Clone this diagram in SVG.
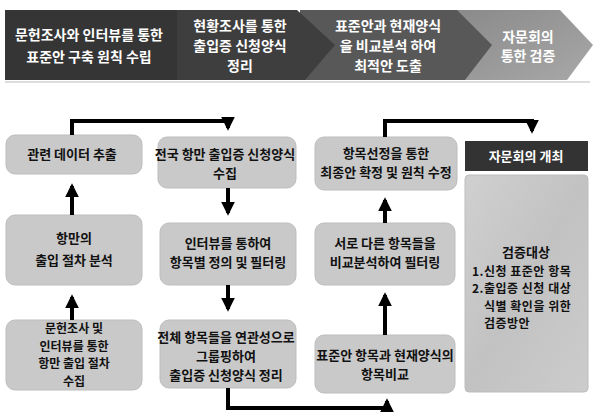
<svg xmlns="http://www.w3.org/2000/svg" width="595" height="412" viewBox="0 0 595 412">
<defs>
<style>
.bt{font-family:"Noto Sans CJK KR","Noto Sans",sans-serif;font-size:14px;font-weight:bold;fill:#ffffff;text-anchor:middle}
.t{font-family:"Noto Sans CJK KR","Noto Sans",sans-serif;font-size:13px;font-weight:bold;fill:#111111;text-anchor:middle}
.ts{font-family:"Noto Sans CJK KR","Noto Sans",sans-serif;font-size:12px;font-weight:bold;fill:#111111;text-anchor:middle}
.tl{font-family:"Noto Sans CJK KR","Noto Sans",sans-serif;font-size:12px;font-weight:bold;fill:#111111;letter-spacing:0.5px}
.box{fill:#c9c9c9;stroke:#bdbdbd;stroke-width:1}
.c{fill:none;stroke:#000;stroke-width:4}
</style>
<marker id="ah" viewBox="0 0 10 10" refX="8" refY="5" markerWidth="3.4" markerHeight="3.4" orient="auto" markerUnits="strokeWidth">
<path d="M0,0 L10,5 L0,10 z" fill="#000"/>
</marker>
<linearGradient id="g4" x1="0" y1="0" x2="1" y2="1">
<stop offset="0" stop-color="#8a8a8a"/><stop offset="1" stop-color="#a8a8a8"/>
</linearGradient>
<linearGradient id="gb" x1="0" y1="0" x2="1" y2="1">
<stop offset="0" stop-color="#d0d0d0"/><stop offset="0.5" stop-color="#c2c2c2"/><stop offset="1" stop-color="#cccccc"/>
</linearGradient>
</defs>
<rect width="595" height="412" fill="#ffffff"/>

<g id="banner">
<polygon points="455,10 560,10 593,45 567,80 455,80" fill="url(#g4)"/>
<polygon points="300,10 457,10 492,45 465,80 300,80" fill="#585858"/>
<polygon points="175,10 297,10 335,45 305,80 175,80" fill="#3e3e3e"/>
<rect x="5" y="10" width="172" height="70" fill="#353535"/>
<line x1="5" y1="82" x2="590" y2="82" stroke="#bbbbbb" stroke-width="1"/>
<text class="bt" x="89" y="40">문헌조사와 인터뷰를 통한</text>
<text class="bt" x="89" y="62">표준안 구축 원칙 수립</text>
<text class="bt" x="240" y="31">현황조사를 통한</text>
<text class="bt" x="240" y="51">출입증 신청양식</text>
<text class="bt" x="240" y="71">정리</text>
<text class="bt" x="388" y="31">표준안과 현재양식</text>
<text class="bt" x="388" y="51">을 비교분석 하여</text>
<text class="bt" x="388" y="71">최적안 도출</text>
<text class="bt" x="528" y="42">자문회의</text>
<text class="bt" x="528" y="61">통한 검증</text>
</g>

<g id="n1">
<rect class="box" x="6" y="135" width="136" height="39" rx="9" fill="url(#gb)"/>
<text class="t" x="72" y="159">관련 데이터 추출</text>
</g>
<g id="n2">
<rect class="box" x="6" y="215" width="136" height="70" rx="9" fill="url(#gb)"/>
<text class="t" x="74" y="243">항만의</text>
<text class="t" x="74" y="265">출입 절차 분석</text>
</g>
<g id="n3">
<rect class="box" x="6" y="320" width="136" height="70" rx="9" fill="url(#gb)"/>
<text class="ts" x="74" y="333">문헌조사 및</text>
<text class="ts" x="74" y="350.5">인터뷰를 통한</text>
<text class="ts" x="74" y="368">항만 출입 절차</text>
<text class="ts" x="74" y="385.5">수집</text>
</g>

<g id="n4">
<rect class="box" x="158" y="137" width="138" height="51" rx="9" fill="url(#gb)"/>
<text class="t" x="225" y="159">전국 항만 출입증 신청양식</text>
<text class="t" x="225" y="178">수집</text>
</g>
<g id="n5">
<rect class="box" x="160" y="223" width="136" height="62" rx="9" fill="url(#gb)"/>
<text class="t" x="228" y="248">인터뷰를 통하여</text>
<text class="t" x="228" y="267">항목별 정의 및 필터링</text>
</g>
<g id="n6">
<rect class="box" x="160" y="320" width="136" height="68" rx="9" fill="url(#gb)"/>
<text class="t" x="226" y="342">전체 항목들을 연관성으로</text>
<text class="t" x="226" y="361">그룹핑하여</text>
<text class="t" x="226" y="380">출입증 신청양식 정리</text>
</g>

<g id="n7">
<rect class="box" x="315" y="137" width="142" height="53" rx="9" fill="url(#gb)"/>
<text class="t" x="386" y="158">항목선정을 통한</text>
<text class="t" x="386" y="177">최종안 확정 및 원칙 수정</text>
</g>
<g id="n8">
<rect class="box" x="315" y="223" width="140" height="62" rx="9" fill="url(#gb)"/>
<text class="t" x="385" y="248">서로 다른 항목들을</text>
<text class="t" x="385" y="267">비교분석하여 필터링</text>
</g>
<g id="n9">
<rect class="box" x="315" y="335" width="140" height="58" rx="9" fill="url(#gb)"/>
<text class="t" x="385" y="360">표준안 항목과 현재양식의</text>
<text class="t" x="385" y="379">항목비교</text>
</g>

<g id="n10">
<rect x="465" y="141" width="123" height="30" fill="#333333"/>
<text class="bt" x="526" y="161" style="font-size:13px">자문회의 개최</text>
</g>
<g id="n11">
<rect x="465" y="175" width="123" height="217" rx="4" fill="url(#gb)" stroke="#bdbdbd"/>
<text class="t" x="526" y="257">검증대상</text>
<text class="tl" x="472" y="275.5">1.신청 표준안 항목</text>
<text class="tl" x="472" y="293">2.출입증 신청 대상</text>
<text class="tl" x="484" y="310.5">식별 확인을 위한</text>
<text class="tl" x="484" y="328">검증방안</text>
</g>

<g id="connectors">
<path class="c" d="M72,135 V121 H228 V128" marker-end="url(#ah)"/>
<path class="c" d="M72,215 V186" marker-end="url(#ah)"/>
<path class="c" d="M72,320 V297" marker-end="url(#ah)"/>
<path class="c" d="M228,188 V213" marker-end="url(#ah)"/>
<path class="c" d="M228,285 V309" marker-end="url(#ah)"/>
<path class="c" d="M228,388 V408 H387 V401" marker-end="url(#ah)"/>
<path class="c" d="M385,335 V295" marker-end="url(#ah)"/>
<path class="c" d="M385,223 V200" marker-end="url(#ah)"/>
<path class="c" d="M385,137 V121 H532 V131" marker-end="url(#ah)"/>
</g>
</svg>
